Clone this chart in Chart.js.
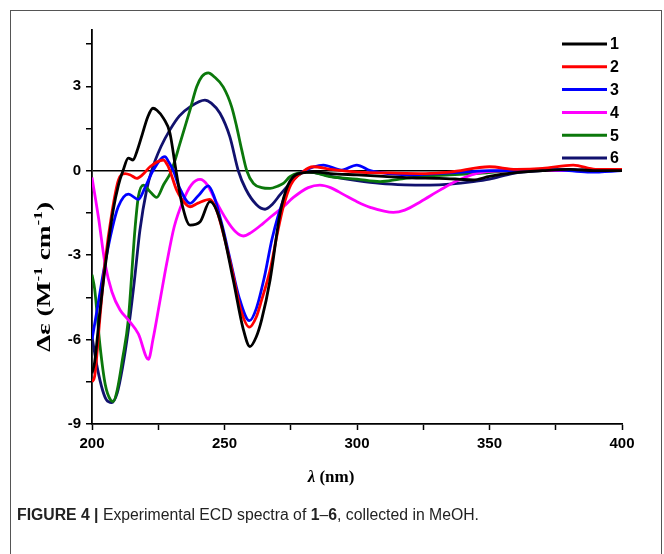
<!DOCTYPE html>
<html>
<head>
<meta charset="utf-8">
<script src="https://cdn.jsdelivr.net/npm/chart.js@4/dist/chart.umd.min.js"></script>
<style>
  html, body { margin: 0; padding: 0; background: #fff; }
  #wrap { position: relative; width: 664px; height: 554px; overflow: hidden; }
  #frame { position: absolute; left: 10px; top: 10px; width: 652px; height: 600px; border: 1.5px solid #555; box-sizing: border-box; pointer-events: none; }
  #cap { position: absolute; left: 17px; top: 506px; font-family: "Liberation Sans Narrow", "Liberation Sans", Arial, sans-serif; font-size: 16px; color: #222; white-space: nowrap; transform-origin: 0 0; }
  canvas { position: absolute; left: 0; top: 0; }
</style>
</head>
<body>
<div id="wrap">
  <canvas id="c" width="664" height="554"></canvas>
  <div id="frame"></div>
  <div id="cap"><b>FIGURE 4 |</b> Experimental ECD spectra of <b>1</b>–<b>6</b>, collected in MeOH.</div>
</div>
<script>
// ---- data ----
const seriesLabels = ["1", "2", "3", "4", "5", "6"];
const seriesColors = ["#000000", "#ff0000", "#0000ff", "#ff00ff", "#0b780b", "#11116e"];

const wl1 = [200,201,203,205,208,210,211.7,213.7,215.5,217,219,221,223,224.5,227,229.4,231.7,234,237,240.8,244.5,248.3,253.3,257,259.6,262,264,267.2,271,274,278,285,290,300,310,320,331,338,343.8,350,359,370,380,390,400];
const de1 = [-7.2,-6.8,-5.0,-3.4,-1.4,-0.5,0,0.45,0.38,0.7,1.3,1.9,2.22,2.15,1.86,1.34,0,-1.2,-1.93,-1.81,-1.1,-1.75,-3.88,-5.6,-6.25,-5.9,-5.3,-3.88,-1.5,-0.5,-0.1,-0.05,-0.1,-0.15,-0.2,-0.25,-0.27,-0.3,-0.33,-0.2,-0.08,0,0.05,0,0];

const wl2 = [200,201,203,205,207.5,210,212.5,214.5,216.9,219,222,226.9,228.5,229.4,232,235.7,237,240,244.5,247,250,253,256,259.4,262,264,267.2,270,272.2,275,279.7,283.4,290,300,312.5,326,335,350,360,370,381.6,390,400];
const de2 = [-7.5,-7.3,-5.2,-3.2,-1.5,-0.33,-0.1,-0.15,-0.27,-0.15,0.15,0.38,0.2,0,-0.7,-1.22,-1.28,-1.15,-1.02,-1.4,-2.4,-3.6,-4.9,-5.56,-5.2,-4.6,-3.53,-2.2,-1.28,-0.5,-0.03,0.14,0.05,-0.05,-0.08,-0.1,-0.05,0.14,0.05,0.08,0.2,0.05,0.05];

const wl3 = [200,202,204.9,207.5,209.9,213.7,217.5,220,223,227.5,229,230.7,233,237,240,243.9,246,249,252,255.5,259.4,262,265,268,272.2,276,279.7,287.3,294.2,299.9,305,312,321,330,340,350,360,370,380,388,400];
const de3 = [-6.0,-4.9,-3.3,-2.1,-1.28,-0.83,-1.02,-0.6,0,0.5,0.3,0,-0.6,-1.16,-0.9,-0.54,-0.9,-1.9,-3.1,-4.5,-5.33,-4.9,-3.8,-2.4,-1.04,-0.3,-0.03,0.2,0.02,0.2,0,-0.1,-0.15,-0.1,-0.05,0,0,0.05,0,-0.05,0];

const wl4 = [200,202.5,204.9,207.5,210.6,213.7,217.5,221.3,223,225.5,228.2,231,234.5,237.5,240.8,243.5,246,250.8,254,257.1,260,264.6,268,272.2,276,281.6,286,290,295,300,305,313.7,318,324,331.3,338,346.4,360,380,400];
const de4 = [-0.24,-1.7,-3.29,-4.3,-4.95,-5.3,-5.8,-6.7,-6.0,-4.7,-3.29,-2.0,-1.04,-0.5,-0.31,-0.5,-0.95,-1.75,-2.15,-2.32,-2.2,-1.87,-1.6,-1.28,-0.95,-0.6,-0.51,-0.6,-0.85,-1.1,-1.3,-1.48,-1.4,-1.1,-0.69,-0.35,-0.07,0,0,0];

const wl5 = [200,201,203,205,207,208,209.5,211.5,213.7,216.2,217.5,219.4,221.5,224.4,227,230,233.2,237,239.5,241.5,243.9,246,249.5,252.7,254.6,256.5,258.4,260.9,264,267.2,270,272.2,274.7,278,282,289.8,300,308.7,316,323.8,335,345,360,380,400];
const de5 = [-3.7,-4.2,-6.2,-7.6,-8.15,-8.2,-7.8,-6.7,-5.3,-2.1,-0.92,-0.51,-0.7,-0.95,-0.5,0,0.97,2.16,2.98,3.35,3.48,3.35,2.98,2.27,1.56,0.74,0,-0.45,-0.6,-0.63,-0.55,-0.45,-0.21,-0.08,-0.05,-0.21,-0.3,-0.39,-0.3,-0.21,-0.15,-0.1,0,0,0];

const wl6 = [200,202,204,205.5,207.4,209.5,211.5,213.7,216,218.1,220.6,222.5,226,229.4,233,237,242.6,245,248.3,252,255.2,258,262,265.3,268,271,274.7,278,281,290,300,308.7,318,327.5,335,343.9,350,359,370,380,390,400];
const de6 = [-5.9,-7.0,-7.8,-8.15,-8.24,-7.9,-7.0,-5.66,-3.9,-2.1,-0.69,0,0.85,1.45,1.95,2.27,2.51,2.4,2.04,1.21,0,-0.65,-1.2,-1.37,-1.2,-0.85,-0.45,-0.15,-0.03,-0.2,-0.35,-0.45,-0.5,-0.51,-0.48,-0.39,-0.3,-0.09,0,0.05,0,0];

const xTicks = [200,225,250,275,300,325,350,375,400];
const yTicks = [-9,-7.5,-6,-4.5,-3,-1.5,0,1.5,3,4.5];
const xLabelText = "λ (nm)";
const yLabelRuns = [["Δε (M", false], ["-1", true], [" cm", false], ["-1", true], [")", false]];

// ---- build ----
const wls = [wl1, wl2, wl3, wl4, wl5, wl6];
const des = [de1, de2, de3, de4, de5, de6];
const datasets = seriesLabels.map((lab, i) => ({
  label: lab,
  data: wls[i].map((x, j) => ({ x: x, y: des[i][j] })),
  borderColor: seriesColors[i],
  backgroundColor: seriesColors[i],
  borderWidth: 2.8,
  pointRadius: 0,
  showLine: true,
  fill: false,
  cubicInterpolationMode: 'monotone'
}));

const deco = {
  id: 'deco',
  afterDraw(chart) {
    const ctx = chart.ctx;
    ctx.save();
    // legend
    chart.data.datasets.forEach((ds, i) => {
      const y = 44 + i * 22.8;
      ctx.strokeStyle = ds.borderColor;
      ctx.lineWidth = 3;
      ctx.beginPath();
      ctx.moveTo(562, y);
      ctx.lineTo(607, y);
      ctx.stroke();
      ctx.fillStyle = '#000';
      ctx.font = 'bold 16px "Liberation Sans", Arial, sans-serif';
      ctx.textBaseline = 'middle';
      ctx.textAlign = 'left';
      ctx.fillText(ds.label, 610, y + 1);
    });
    // x title
    ctx.fillStyle = '#000';
    ctx.textBaseline = 'middle';
    ctx.textAlign = 'left';
    const f1 = 'italic bold 17px "Liberation Serif", "Times New Roman", serif';
    const f2 = 'bold 17px "Liberation Serif", "Times New Roman", serif';
    ctx.font = f1; const wL = ctx.measureText(xLabelText[0]).width;
    ctx.font = f2; const wR = ctx.measureText(xLabelText.slice(1)).width;
    let x0 = 331 - (wL + wR) / 2;
    ctx.font = f1; ctx.fillText(xLabelText[0], x0, 478);
    ctx.font = f2; ctx.fillText(xLabelText.slice(1), x0 + wL, 478);
    // y title (stretched along its length to the reference span)
    const fn = 'bold 19px "Liberation Serif", "Times New Roman", serif';
    const fs = 'bold 12px "Liberation Serif", "Times New Roman", serif';
    let total = 0;
    yLabelRuns.forEach(r => { ctx.font = r[1] ? fs : fn; total += ctx.measureText(r[0]).width; });
    const target = 150;
    ctx.translate(45, 277);
    ctx.rotate(-Math.PI / 2);
    ctx.scale(target / total, 1);
    let cx = -total / 2;
    yLabelRuns.forEach(r => {
      ctx.font = r[1] ? fs : fn;
      ctx.fillText(r[0], cx, r[1] ? -6 : 0);
      cx += ctx.measureText(r[0]).width;
    });
    ctx.restore();
  }
};

new Chart(document.getElementById('c'), {
  type: 'scatter',
  data: { datasets: datasets },
  options: {
    responsive: false,
    animation: false,
    layout: { padding: { left: 0, right: 42, top: 30, bottom: 0 } },
    plugins: { legend: { display: false }, tooltip: { enabled: false } },
    scales: {
      x: {
        type: 'linear', min: 200, max: 400,
        afterBuildTicks: s => { s.ticks = xTicks.map(v => ({ value: v })); },
        afterFit: s => { s.height = 130; },
        ticks: {
          autoSkip: false, maxRotation: 0, padding: 5, color: '#000',
          font: { family: '"Liberation Sans", Arial, sans-serif', size: 15, weight: 'bold' },
          callback: v => (v % 50 === 0 ? String(v) : '')
        },
        grid: { drawOnChartArea: false, tickLength: 6, tickColor: '#000', tickWidth: 1.5 },
        border: { color: '#000', width: 1.8 }
      },
      y: {
        type: 'linear', min: -9, max: 5,
        afterBuildTicks: s => { s.ticks = yTicks.map(v => ({ value: v })); },
        afterFit: s => { s.width = 92; },
        ticks: {
          autoSkip: false, padding: 5, color: '#000',
          font: { family: '"Liberation Sans", Arial, sans-serif', size: 15, weight: 'bold' },
          callback: v => (v % 3 === 0 ? String(v) : '')
        },
        grid: {
          drawOnChartArea: true,
          color: c => (c.tick && c.tick.value === 0 ? '#000' : 'rgba(0,0,0,0)'),
          lineWidth: 1.5, tickLength: 6, tickColor: '#000', tickWidth: 1.5
        },
        border: { color: '#000', width: 1.8 }
      }
    }
  },
  plugins: [deco]
});

// fit caption to its width in the reference
(function () {
  const cap = document.getElementById('cap');
  const w = cap.getBoundingClientRect().width;
  cap.style.transform = 'scaleX(' + (462 / w) + ')';
})();
</script>
</body>
</html>
